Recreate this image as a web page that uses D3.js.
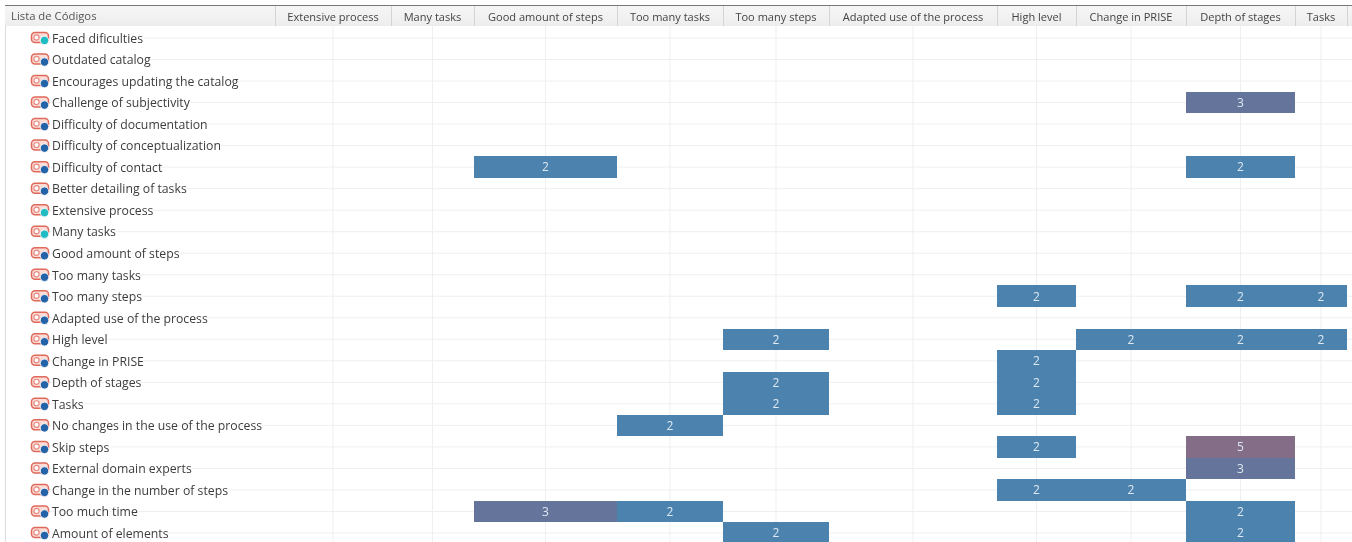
<!DOCTYPE html>
<html>
<head>
<meta charset="utf-8">
<script src="https://cdn.jsdelivr.net/npm/d3@7"></script>
<style>
  html, body { margin: 0; padding: 0; background: #fff; overflow: hidden; }
  svg { display: block; filter: blur(0.5px); }
  text { font-family: "Open Sans", "Noto Sans", sans-serif; }
</style>
</head>
<body>
<svg id="chart"></svg>
<script>
const listTitle = "Lista de Códigos"

const columns = ["Extensive process", "Many tasks", "Good amount of steps", "Too many tasks", "Too many steps",
  "Adapted use of the process", "High level", "Change in PRISE", "Depth of stages", "Tasks"]

const codes = ["Faced dificulties", "Outdated catalog", "Encourages updating the catalog", "Challenge of subjectivity",
  "Difficulty of documentation", "Difficulty of conceptualization", "Difficulty of contact", "Better detailing of tasks",
  "Extensive process", "Many tasks", "Good amount of steps", "Too many tasks", "Too many steps",
  "Adapted use of the process", "High level", "Change in PRISE", "Depth of stages", "Tasks",
  "No changes in the use of the process", "Skip steps", "External domain experts", "Change in the number of steps",
  "Too much time", "Amount of elements"]

const tealCodes = ["Faced dificulties", "Extensive process", "Many tasks"]

// code, column, count. empty cells are left out
const cellCode = ["Challenge of subjectivity", "Difficulty of contact", "Difficulty of contact",
  "Too many steps", "Too many steps", "Too many steps",
  "High level", "High level", "High level", "High level",
  "Change in PRISE", "Depth of stages", "Depth of stages", "Tasks", "Tasks",
  "No changes in the use of the process", "Skip steps", "Skip steps", "External domain experts",
  "Change in the number of steps", "Change in the number of steps",
  "Too much time", "Too much time", "Too much time", "Amount of elements", "Amount of elements"]
const cellColumn = ["Depth of stages", "Good amount of steps", "Depth of stages",
  "High level", "Depth of stages", "Tasks",
  "Too many steps", "Change in PRISE", "Depth of stages", "Tasks",
  "High level", "Too many steps", "High level", "Too many steps", "High level",
  "Too many tasks", "High level", "Depth of stages", "Depth of stages",
  "High level", "Change in PRISE",
  "Good amount of steps", "Too many tasks", "Depth of stages", "Too many steps", "Depth of stages"]
const cellCount = [3, 2, 2, 2, 2, 2, 2, 2, 2, 2, 2, 2, 2, 2, 2, 2, 2, 5, 3, 2, 2, 3, 2, 2, 2, 2]

const svgW = 1352
const svgH = 542
const headerTop = 6
const headerH = 20
const rowTop = 27.25
const rowH = 21.52
// header cells are as wide as their text, so the edges are not regular
const colEdges = [275, 391, 474, 617, 723, 829, 997, 1076, 1186, 1295, 1347]

const chart = d3.select('#chart').attr('width', svgW).attr('height', svgH)

const xLeft = d3.scaleOrdinal(columns, colEdges.slice(0, -1))
const xRight = d3.scaleOrdinal(columns, colEdges.slice(1))
const xMid = d => (xLeft(d) + xRight(d)) / 2
const y = d3.scaleBand(codes, [rowTop, rowTop + rowH * codes.length])
const cellColor = d3.scaleOrdinal([2, 3, 5], ["#4c82ae", "#65749a", "#846e87"])

const cells = cellCount.map((count, i) => ({code: cellCode[i], column: cellColumn[i], count}))

// grid lines run through the middle of the rows and columns
chart.append('g').selectAll('line')
  .data(codes)
  .join('line')
  .attr('x1', 30).attr('x2', svgW)
  .attr('y1', d => y(d) + y.bandwidth() / 2)
  .attr('y2', d => y(d) + y.bandwidth() / 2)
  .style('stroke', '#efeff1')

chart.append('g').selectAll('line')
  .data(columns)
  .join('line')
  .attr('x1', xMid).attr('x2', xMid)
  .attr('y1', headerTop + headerH).attr('y2', svgH)
  .style('stroke', '#efeff1')

chart.append('line')
  .attr('x1', 5.5).attr('x2', 5.5).attr('y1', headerTop).attr('y2', svgH)
  .style('stroke', '#dcdcdc')

// filled cells
const cellG = chart.append('g').selectAll('g')
  .data(cells)
  .join('g')

cellG.append('rect')
  .attr('x', d => xLeft(d.column))
  .attr('y', d => y(d.code))
  .attr('width', d => xRight(d.column) - xLeft(d.column))
  .attr('height', y.bandwidth())
  .attr('shape-rendering', 'crispEdges')
  .style('fill', d => cellColor(d.count))

cellG.append('text')
  .attr('x', d => xMid(d.column))
  .attr('y', d => y(d.code) + y.bandwidth() / 2)
  .attr('dy', '0.36em')
  .attr('text-anchor', 'middle')
  .attr('fill', '#dfe8f2')
  .style('font-size', '12px')
  .text(d => d.count)

// header
const header = chart.append('g')
const headerGrad = chart.append('defs').append('linearGradient')
  .attr('id', 'headerGrad').attr('x1', 0).attr('x2', 0).attr('y1', 0).attr('y2', 1)
headerGrad.append('stop').attr('offset', 0).attr('stop-color', '#f6f6f6')
headerGrad.append('stop').attr('offset', 1).attr('stop-color', '#ededed')

header.append('rect')
  .attr('x', 5).attr('y', headerTop).attr('width', svgW - 5).attr('height', headerH)
  .style('fill', 'url(#headerGrad)')
header.append('line')
  .attr('x1', 5).attr('x2', svgW).attr('y1', headerTop - 0.5).attr('y2', headerTop - 0.5)
  .style('stroke', '#777')
header.append('text')
  .attr('x', 11).attr('y', headerTop + headerH / 2 + 0.5).attr('dy', '0.34em')
  .attr('fill', '#555')
  .style('font-size', '11.3px')
  .text(listTitle)

header.selectAll('line.sep')
  .data(colEdges)
  .join('line')
  .classed('sep', true)
  .attr('x1', d => d + 0.5).attr('x2', d => d + 0.5)
  .attr('y1', headerTop).attr('y2', headerTop + headerH)
  .style('stroke', '#d4d4d4')

header.selectAll('text.col')
  .data(columns)
  .join('text')
  .classed('col', true)
  .attr('x', xMid)
  .attr('y', headerTop + headerH / 2 + 1)
  .attr('dy', '0.34em')
  .attr('text-anchor', 'middle')
  .attr('fill', '#444')
  .style('font-size', '11.05px')
  .text(d => d)

// code list
const rows = chart.append('g').selectAll('g')
  .data(codes)
  .join('g')
  .attr('transform', d => `translate(0,${y(d) + y.bandwidth() / 2})`)

rows.append('text')
  .attr('x', 52)
  .attr('y', 0.5)
  .attr('dy', '0.35em')
  .attr('fill', '#3c3c3c')
  .style('font-size', '12.25px')
  .style('paint-order', 'stroke')
  .style('stroke', '#fff')
  .style('stroke-width', 2)
  .text(d => d)

// code icon: red tag with a coloured dot
rows.append('rect')
  .attr('x', 31.5).attr('y', -5.5).attr('width', 17).attr('height', 10).attr('rx', 3.5)
  .style('fill', '#fbdcd6')
  .style('stroke', '#e0695c')
  .style('stroke-width', 1.5)
rows.append('circle')
  .attr('cx', 36.5).attr('cy', -0.5).attr('r', 2.6)
  .style('fill', '#fff')
  .style('stroke', '#e8897f')
  .style('stroke-width', 1.2)
rows.append('circle')
  .attr('cx', 44.5).attr('cy', 2.5).attr('r', 4.2)
  .style('fill', d => tealCodes.includes(d) ? '#1fbcc4' : '#2563a8')
  .style('stroke', '#fff')
  .style('stroke-width', 0.8)
</script>
</body>
</html>
